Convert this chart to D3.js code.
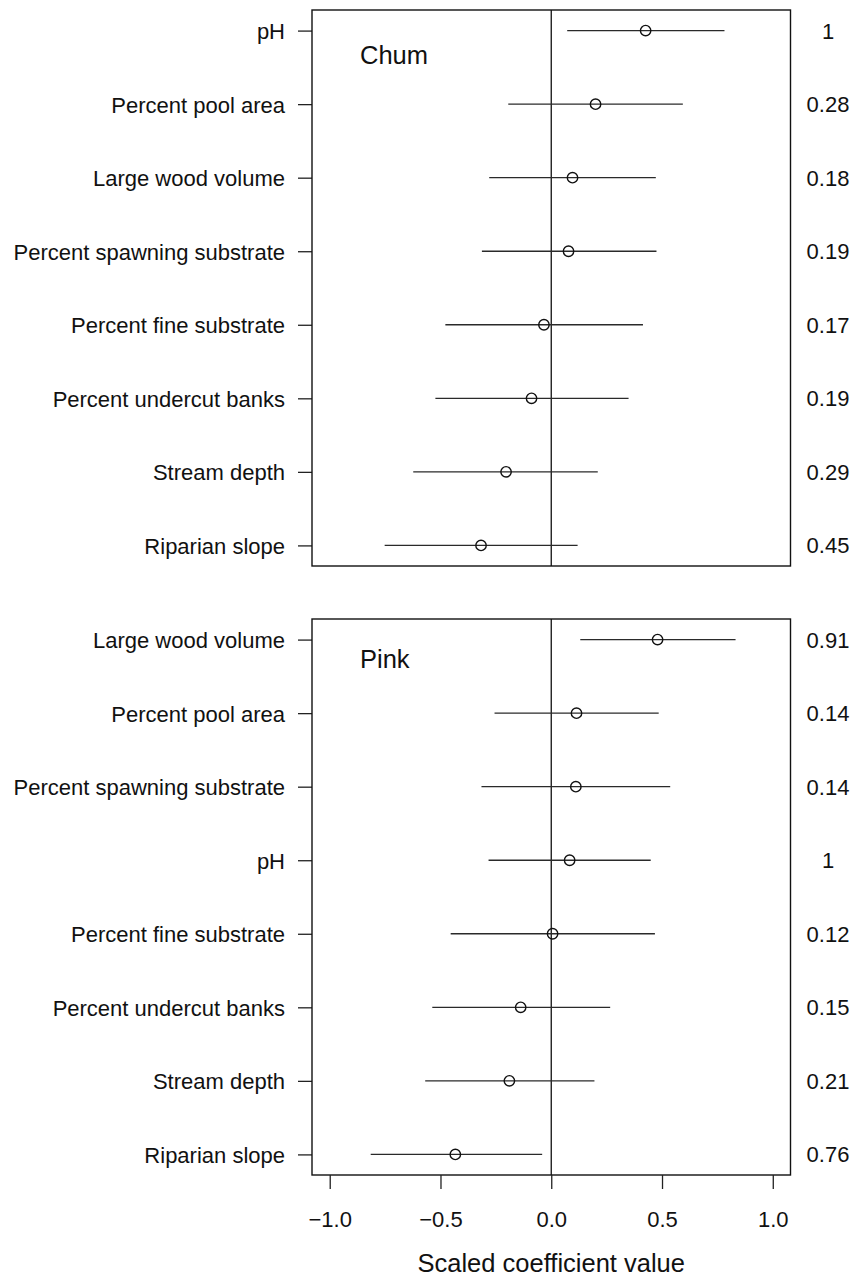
<!DOCTYPE html>
<html>
<head>
<meta charset="utf-8">
<script src="https://cdn.jsdelivr.net/npm/d3@7"></script>
<style>
  body { margin: 0; background: #fff; }
  svg { display: block; font-family: "Liberation Sans", Arial, Helvetica, sans-serif; }
  .axis text { font-size: 22px; fill: #111; }
  .axis line { stroke: #222; stroke-width: 1.3; }
  .axis path { display: none; }
</style>
</head>
<body>
<div id="chart"></div>
<script>
// chum panel
const chumLabels = ['pH', 'Percent pool area', 'Large wood volume', 'Percent spawning substrate',
  'Percent fine substrate', 'Percent undercut banks', 'Stream depth', 'Riparian slope'];
const chumEst = [0.426, 0.200, 0.096, 0.078, -0.033, -0.089, -0.204, -0.317];
const chumLo = [0.072, -0.194, -0.280, -0.313, -0.478, -0.523, -0.623, -0.752];
const chumHi = [0.782, 0.594, 0.472, 0.475, 0.414, 0.349, 0.210, 0.119];
const chumWeight = ['1', '0.28', '0.18', '0.19', '0.17', '0.19', '0.29', '0.45'];

// pink panel
const pinkLabels = ['Large wood volume', 'Percent pool area', 'Percent spawning substrate', 'pH',
  'Percent fine substrate', 'Percent undercut banks', 'Stream depth', 'Riparian slope'];
const pinkEst = [0.480, 0.114, 0.111, 0.083, 0.006, -0.138, -0.189, -0.433];
const pinkLo = [0.131, -0.256, -0.315, -0.283, -0.454, -0.537, -0.569, -0.815];
const pinkHi = [0.832, 0.485, 0.537, 0.449, 0.468, 0.266, 0.195, -0.041];
const pinkWeight = ['0.91', '0.14', '0.14', '1', '0.12', '0.15', '0.21', '0.76'];

const xTicks = [-1, -0.5, 0, 0.5, 1];
const xTitle = 'Scaled coefficient value';

const width = 854;
const height = 1277;
const left = 312;
const right = 790.5;

const x = d3.scaleLinear().domain([-1.08, 1.08]).range([left, right]);

const svg = d3.select('#chart')
  .append('svg')
  .attr('width', width)
  .attr('height', height);

function panel(name, labels, est, lo, hi, weight, top, bottom, nameDy) {
  const rows = labels.map(function (d, i) {
    return { label: d, est: est[i], lo: lo[i], hi: hi[i], w: weight[i], idx: i + 1 };
  });

  const y = d3.scaleLinear().domain([0.72, 8.28]).range([top, bottom]);

  const g = svg.append('g');

  // zero reference line
  g.append('line')
    .attr('x1', x(0)).attr('x2', x(0))
    .attr('y1', top).attr('y2', bottom)
    .attr('stroke', '#111')
    .attr('stroke-width', 1.3);

  g.append('g')
    .attr('class', 'axis')
    .attr('transform', `translate(${left},0)`)
    .call(d3.axisLeft(y)
      .tickValues(d3.range(1, 9))
      .tickFormat(function (d) { return labels[d - 1]; })
      .tickSize(14)
      .tickPadding(13))
    .selectAll('text')
    .attr('dy', '0.36em');

  g.selectAll('.ci')
    .data(rows)
    .enter()
    .append('line')
    .attr('class', 'ci')
    .attr('x1', function (d) { return x(d.lo); })
    .attr('x2', function (d) { return x(d.hi); })
    .attr('y1', function (d) { return y(d.idx); })
    .attr('y2', function (d) { return y(d.idx); })
    .attr('stroke', '#2a2a2a')
    .attr('stroke-width', 1.3);

  g.selectAll('.pt')
    .data(rows)
    .enter()
    .append('circle')
    .attr('class', 'pt')
    .attr('cx', function (d) { return x(d.est); })
    .attr('cy', function (d) { return y(d.idx); })
    .attr('r', 5.2)
    .attr('fill', 'none')
    .attr('stroke', '#111')
    .attr('stroke-width', 1.4);

  g.selectAll('.wt')
    .data(rows)
    .enter()
    .append('text')
    .attr('class', 'wt')
    .attr('x', 828)
    .attr('y', function (d) { return y(d.idx); })
    .attr('dy', '0.36em')
    .attr('text-anchor', 'middle')
    .style('font-size', '22px')
    .attr('fill', '#111')
    .text(function (d) { return d.w; });

  g.append('text')
    .attr('x', 360)
    .attr('y', top + nameDy)
    .style('font-size', '25.5px')
    .attr('fill', '#111')
    .text(name);

  g.append('rect')
    .attr('x', left).attr('y', top)
    .attr('width', right - left).attr('height', bottom - top)
    .attr('fill', 'none')
    .attr('stroke', '#111')
    .attr('stroke-width', 1.4);

  return g;
}

panel('Chum', chumLabels, chumEst, chumLo, chumHi, chumWeight, 10, 566, 54);
const pink = panel('Pink', pinkLabels, pinkEst, pinkLo, pinkHi, pinkWeight, 619, 1175, 49);

pink.append('g')
  .attr('class', 'axis')
  .attr('transform', 'translate(0,1175)')
  .call(d3.axisBottom(x)
    .tickValues(xTicks)
    .tickFormat(d3.format('.1f'))
    .tickSize(14)
    .tickPadding(22))
  .selectAll('text')
  .attr('dy', '0.71em');

svg.append('text')
  .attr('x', x(0))
  .attr('y', 1272)
  .attr('text-anchor', 'middle')
  .style('font-size', '25.5px')
  .attr('fill', '#111')
  .text(xTitle);
</script>
</body>
</html>
